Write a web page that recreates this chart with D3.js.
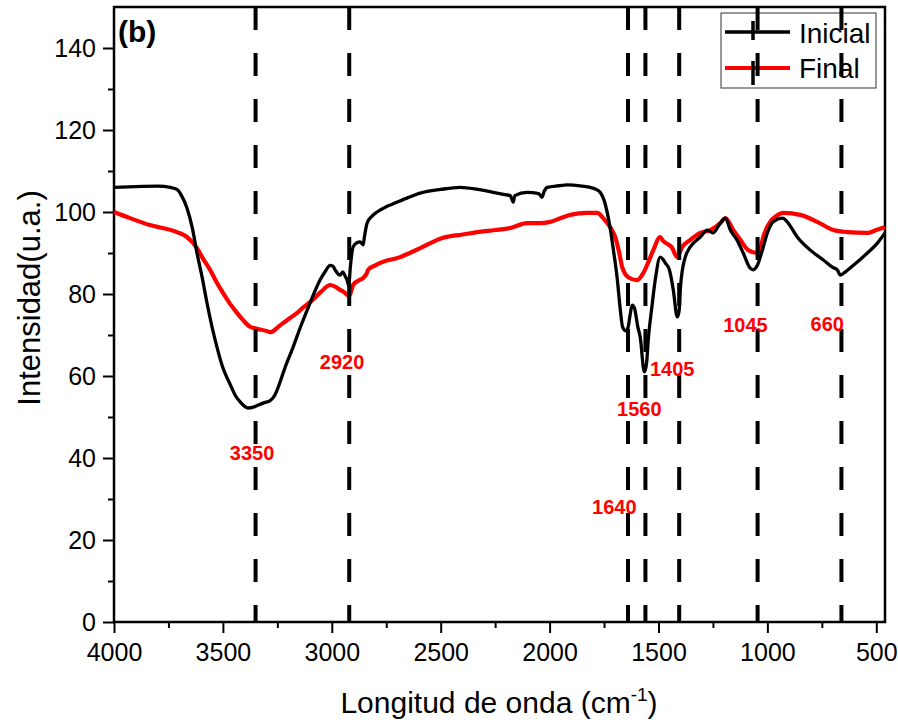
<!DOCTYPE html>
<html>
<head>
<meta charset="utf-8">
<script src="https://cdn.jsdelivr.net/npm/d3@7"></script>
<style>
  body { margin: 0; background: #fff; }
  svg { display: block; font-family: Arial, "Liberation Sans", sans-serif; }
</style>
</head>
<body>
<div id="chart"></div>
<script>
// FTIR spectra, wavenumber (cm-1) vs intensity (u.a.)
const inicialWave = [4000, 3900, 3800, 3740, 3711, 3690, 3665, 3640, 3619, 3595, 3573, 3550, 3527, 3500, 3467, 3440, 3421, 3400, 3385, 3360, 3343, 3310, 3283, 3260, 3251, 3215, 3178, 3140, 3100, 3075, 3054, 3030, 3008, 2995, 2985, 2970, 2962, 2950, 2940, 2930, 2922, 2915, 2902, 2885, 2870, 2856, 2850, 2838, 2815, 2792, 2750, 2718, 2650, 2594, 2500, 2411, 2330, 2259, 2200, 2181, 2167, 2160, 2103, 2050, 2035, 2025, 2011, 1960, 1919, 1850, 1813, 1790, 1768, 1745, 1725, 1705, 1690, 1675, 1665, 1650, 1640, 1630, 1621, 1610, 1595, 1584, 1565, 1555, 1547, 1530, 1515, 1492, 1480, 1469, 1450, 1432, 1414, 1405, 1400, 1390, 1377, 1354, 1308, 1276, 1250, 1216, 1193, 1170, 1140, 1111, 1079, 1065, 1046, 1023, 1000, 973, 931, 909, 863, 803, 743, 700, 679, 665, 642, 605, 541, 495, 460]
const inicialVal = [106, 106.2, 106.3, 106, 105.5, 104, 101, 96, 90, 84, 77.8, 72, 67, 62, 58, 55, 53.7, 52.6, 52.2, 52.4, 52.8, 53.5, 54, 55.5, 56.6, 62, 67, 72.5, 77.8, 81, 83.4, 85.5, 87, 86.8, 85.9, 84.8, 84.6, 85.4, 84.5, 83.4, 82, 86.5, 91.5, 92.5, 92.7, 92, 94, 97.3, 99, 100, 101.3, 102, 103.5, 104.6, 105.5, 106, 105.5, 104.8, 104.2, 104, 102.4, 104, 104.8, 104.5, 103.6, 105, 106, 106.4, 106.6, 106.3, 106, 105.6, 104.8, 102, 97, 90, 84, 76, 72, 71, 71.8, 75, 77.3, 76.5, 72, 69.5, 61, 63, 68.8, 77, 83.4, 89, 88.5, 87.6, 85.9, 81, 74.4, 76, 81, 86, 89, 91.5, 93.9, 95.6, 94.9, 97.3, 98.5, 95.6, 93.2, 90, 86.3, 85.9, 87, 90.7, 94.9, 97.6, 98.5, 97.6, 93.9, 90.7, 88.3, 86.5, 85.9, 84.6, 85.4, 87, 90, 92.4, 94.9]

const finalWave = [4000, 3926, 3835, 3711, 3665, 3619, 3590, 3559, 3530, 3499, 3467, 3435, 3405, 3375, 3343, 3300, 3283, 3274, 3250, 3224, 3190, 3159, 3130, 3100, 3050, 3008, 2985, 2962, 2945, 2930, 2920, 2902, 2880, 2856, 2840, 2833, 2800, 2778, 2686, 2594, 2489, 2400, 2333, 2250, 2181, 2103, 2050, 1997, 1950, 1905, 1830, 1781, 1754, 1722, 1699, 1680, 1667, 1639, 1598, 1570, 1545, 1524, 1492, 1480, 1465, 1440, 1414, 1391, 1354, 1308, 1262, 1216, 1193, 1157, 1124, 1088, 1046, 1030, 1019, 987, 960, 927, 849, 771, 697, 633, 541, 500, 460]
const finalVal = [100, 98.5, 96.8, 95.1, 93.9, 91.2, 88.5, 85.9, 83, 80.2, 77.6, 75.4, 73.5, 72, 71.5, 71, 70.7, 70.8, 71.8, 72.9, 74.2, 75.4, 76.8, 78, 80.5, 82.2, 81.8, 81, 80.5, 79.8, 79.5, 82.2, 83.2, 83.9, 85, 85.9, 87, 87.6, 89, 91.2, 93.7, 94.5, 95.1, 95.6, 96.1, 97.3, 97.3, 97.6, 98.5, 99.3, 99.8, 99.8, 98.5, 96.3, 93.9, 90, 86.6, 84.1, 83.4, 85.1, 88, 90.7, 93.9, 93, 92.4, 91.5, 89, 91.5, 93.2, 94.9, 95.6, 97.3, 98.5, 95.6, 93.2, 90.7, 90, 91.5, 93.9, 97.6, 99, 99.8, 99.3, 97.6, 95.6, 95.1, 94.9, 95.6, 96.3]

// marked bands and their labels (label centre in data units)
const bandWave = [3350, 2920, 1640, 1560, 1405, 1045, 660]
const bandText = ['3350', '2920', '1640', '1560', '1405', '1045', '660']
const labelWave = [3366, 2953, 1703, 1588, 1437, 1101, 725]
const labelVal = [41.2, 63.4, 28, 52, 61.7, 72.4, 72.7]

const xTicks = [4000, 3500, 3000, 2500, 2000, 1500, 1000, 500]
const xMinor = [3750, 3250, 2750, 2250, 1750, 1250, 750]
const yTicks = [0, 20, 40, 60, 80, 100, 120, 140]
const yMinor = [10, 30, 50, 70, 90, 110, 130]

const seriesNames = ['Inicial', 'Final']
const seriesColors = ['#000000', '#ff0000']

const W = 898
const H = 726
const margin = { left: 114, top: 7, right: 13, bottom: 104 }
const width = W - margin.left - margin.right
const height = H - margin.top - margin.bottom

const svg = d3.select('#chart')
  .append('svg')
    .attr('width', W)
    .attr('height', H)

const g = svg.append('g')
  .attr('transform', `translate(${margin.left},${margin.top})`)

const xScale = d3.scaleLinear().domain([4000, 460]).range([0, width])
const yScale = d3.scaleLinear().domain([0, 150]).range([height, 0])

// axes
const xAxis = g.append('g')
  .attr('transform', `translate(0,${height})`)
  .call(d3.axisBottom(xScale).tickValues(xTicks).tickSize(11).tickPadding(10).tickFormat(d3.format('d')))
const xAxisMinor = g.append('g')
  .attr('transform', `translate(0,${height})`)
  .call(d3.axisBottom(xScale).tickValues(xMinor).tickSize(6).tickFormat(''))
const yAxis = g.append('g')
  .call(d3.axisLeft(yScale).tickValues(yTicks).tickSize(11).tickPadding(7))
const yAxisMinor = g.append('g')
  .call(d3.axisLeft(yScale).tickValues(yMinor).tickSize(6).tickFormat(''))

;[xAxis, xAxisMinor, yAxis, yAxisMinor].forEach(a => {
  a.select('.domain').remove()
  a.selectAll('line').attr('stroke', '#000').attr('stroke-width', 2)
  a.selectAll('text').attr('fill', '#000').attr('font-size', 25).attr('font-family', 'Arial, "Liberation Sans", sans-serif')
})

// frame
g.append('rect')
  .attr('x', 0)
  .attr('y', 0)
  .attr('width', width)
  .attr('height', height)
  .attr('fill', 'none')
  .attr('stroke', '#000')
  .attr('stroke-width', 2.5)

// legend (drawn beneath the band lines, as in the original)
const legend = g.append('g')
legend.append('rect')
  .attr('x', 721 - margin.left)
  .attr('y', 13 - margin.top)
  .attr('width', 155)
  .attr('height', 75)
  .attr('fill', '#fff')
  .attr('stroke', '#333')
  .attr('stroke-width', 1)
seriesNames.forEach((name, i) => {
  const ly = (i === 0 ? 32 : 68) - margin.top
  legend.append('line')
    .attr('x1', 725 - margin.left).attr('x2', 790 - margin.left)
    .attr('y1', ly).attr('y2', ly)
    .attr('stroke', seriesColors[i])
    .attr('stroke-width', i === 0 ? 3.5 : 4)
  legend.append('line')
    .attr('x1', 753 - margin.left).attr('x2', 753 - margin.left)
    .attr('y1', ly + (i === 0 ? -11 : -7)).attr('y2', ly + (i === 0 ? 8 : 17))
    .attr('stroke', '#000')
    .attr('stroke-width', 3.5)
  legend.append('text')
    .attr('x', 799 - margin.left)
    .attr('y', ly + (i === 0 ? 11 : 10))
    .attr('font-size', 28)
    .attr('fill', '#000')
    .text(name)
})

// spectra
const line = d3.line()
  .x(d => xScale(d[0]))
  .y(d => yScale(d[1]))
  .curve(d3.curveMonotoneX)

g.append('path')
  .datum(finalWave.map((w, i) => [w, finalVal[i]]))
  .attr('fill', 'none')
  .attr('stroke', seriesColors[1])
  .attr('stroke-width', 4.2)
  .attr('stroke-linejoin', 'round')
  .attr('d', line)

g.append('path')
  .datum(inicialWave.map((w, i) => [w, inicialVal[i]]))
  .attr('fill', 'none')
  .attr('stroke', seriesColors[0])
  .attr('stroke-width', 3.3)
  .attr('stroke-linejoin', 'round')
  .attr('d', line)

// band markers
g.selectAll('.band')
  .data(bandWave)
  .join('line')
    .attr('class', 'band')
    .attr('x1', d => xScale(d))
    .attr('x2', d => xScale(d))
    .attr('y1', 0)
    .attr('y2', height)
    .attr('stroke', '#000')
    .attr('stroke-width', 4)
    .attr('stroke-dasharray', '23,23')

g.selectAll('.band-label')
  .data(bandText)
  .join('text')
    .attr('class', 'band-label')
    .attr('x', (d, i) => xScale(labelWave[i]))
    .attr('y', (d, i) => yScale(labelVal[i]))
    .attr('dy', '0.36em')
    .attr('text-anchor', 'middle')
    .attr('font-size', 20)
    .attr('font-weight', 'bold')
    .attr('fill', '#ff0000')
    .text(d => d)

// panel tag
g.append('text')
  .attr('x', 118 - margin.left)
  .attr('y', 42 - margin.top)
  .attr('font-size', 30)
  .attr('font-weight', 'bold')
  .attr('fill', '#000')
  .text('(b)')

// axis titles
const xTitle = svg.append('text')
  .attr('x', 499)
  .attr('y', 713)
  .attr('text-anchor', 'middle')
  .attr('font-size', 30)
  .attr('fill', '#000')
xTitle.append('tspan').text('Longitud de onda (cm')
xTitle.append('tspan').attr('font-size', 19).attr('dy', -12).text('-1')
xTitle.append('tspan').attr('dy', 12).text(')')

svg.append('text')
  .attr('transform', `translate(40,${298}) rotate(-90)`)
  .attr('text-anchor', 'middle')
  .attr('font-size', 31)
  .attr('fill', '#000')
  .text('Intensidad(u.a.)')
</script>
</body>
</html>
